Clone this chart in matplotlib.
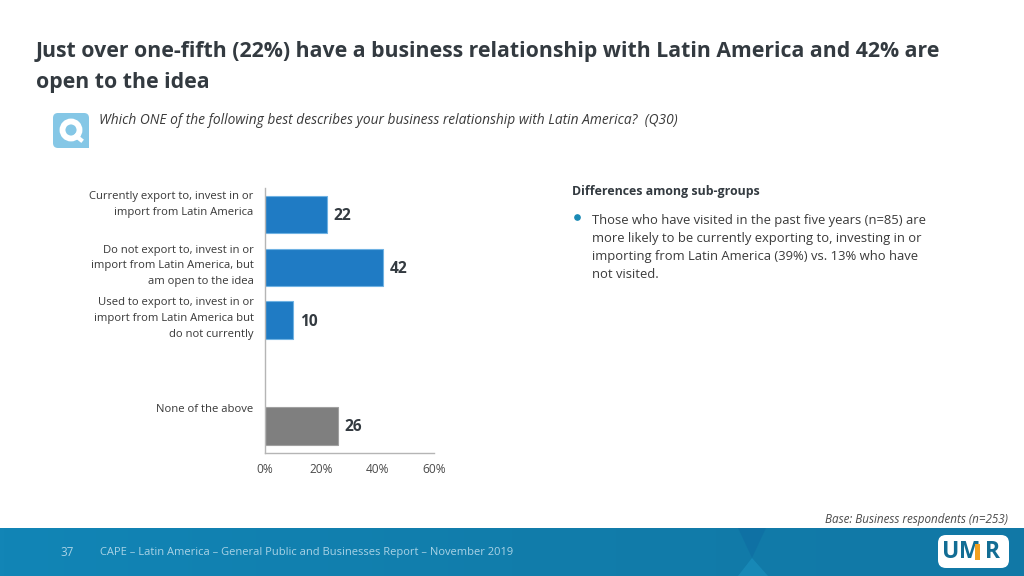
import matplotlib
matplotlib.use("Agg")
import matplotlib.pyplot as plt
from matplotlib.patches import FancyBboxPatch, Rectangle, Circle, Polygon
from matplotlib.colors import LinearSegmentedColormap
import numpy as np

title_lines = ["Just over one-fifth (22%) have a business relationship with Latin America and 42% are",
               "open to the idea"]
question = "Which ONE of the following best describes your business relationship with Latin America?  (Q30)"
categories = ["Currently export to, invest in or\nimport from Latin America",
              "Do not export to, invest in or\nimport from Latin America, but\nam open to the idea",
              "Used to export to, invest in or\nimport from Latin America but\ndo not currently",
              "",
              "None of the above"]
values = [22, 42, 10, None, 26]
bar_colors = ["#1f7bc4", "#1f7bc4", "#1f7bc4", "#ffffff", "#7f7f7f"]
edge_colors = ["#6fb2e3", "#6fb2e3", "#6fb2e3", "none", "#a0a0a0"]
xticks = [0, 20, 40, 60]
xticklabels = ["0%", "20%", "40%", "60%"]
side_heading = "Differences among sub-groups"
side_lines = ["Those who have visited in the past five years (n=85) are",
              "more likely to be currently exporting to, investing in or",
              "importing from Latin America (39%) vs. 13% who have",
              "not visited."]
base_note = "Base: Business respondents (n=253)"
page_number = "37"
footer_text = "CAPE \u2013 Latin America \u2013 General Public and Businesses Report \u2013 November 2019"

W, H = 1024, 576
fig = plt.figure(figsize=(W/100, H/100), dpi=100, facecolor="white")
plt.rcParams['font.family'] = ['Open Sans', 'DejaVu Sans']

bg = fig.add_axes([0, 0, 1, 1])
bg.set_xlim(0, W); bg.set_ylim(H, 0); bg.axis("off")

cmap = LinearSegmentedColormap.from_list("f", ["#1285b6", "#117dab", "#1178a6"])
bg.imshow(np.linspace(0, 1, 256).reshape(1, -1), extent=(0, W, 576, 528), cmap=cmap, aspect="auto", zorder=1)
bg.set_xlim(0, W); bg.set_ylim(H, 0)
bg.add_patch(Polygon([[738, 528], [766, 528], [752, 558]], closed=True, fc="#0f6fa3", ec="none", alpha=0.75, zorder=2))
bg.add_patch(Polygon([[752, 558], [768, 576], [738, 576]], closed=True, fc="#1a8fbd", ec="none", alpha=0.7, zorder=2))

bg.text(36, 51.5, title_lines[0], fontsize=15.35, fontweight="bold", color="#333a40", va="center", ha="left")
bg.text(36, 82.5, title_lines[1], fontsize=15.35, fontweight="bold", color="#333a40", va="center", ha="left")

bg.add_patch(FancyBboxPatch((53, 113), 36, 35, boxstyle="round,pad=0,rounding_size=5", fc="#85c7e6", ec="none", zorder=2))
bg.add_patch(Rectangle((79, 138), 10, 10, fc="#85c7e6", ec="none", zorder=2))
bg.add_patch(Circle((71, 130), 8.5, fc="none", ec="white", lw=4.2, zorder=3))
bg.plot([76, 81], [136, 140], color="white", lw=3, zorder=3)
bg.text(99, 121, question, fontsize=9.9, style="italic", color="#3a3a3a", va="center", ha="left")

ax = fig.add_axes([265.2/W, 1-452.5/H, (434-265.2)/W, (452.5-188)/H])
y = np.arange(len(categories))
vals = [0 if v is None else v for v in values]
ax.barh(y, vals, height=0.71, color=bar_colors, edgecolor=edge_colors, linewidth=0.8)
ax.set_ylim(len(categories)-0.5, -0.5)
ax.set_xlim(0, 60)
ax.set_xticks(xticks); ax.set_xticklabels(xticklabels, fontsize=8.6, color="#4a4a4a")
ax.set_yticks(y); ax.set_yticklabels([""]*len(y))
ax.tick_params(length=0, pad=7.5)
for s in ("top", "right"):
    ax.spines[s].set_visible(False)
for s in ("left", "bottom"):
    ax.spines[s].set_color("#b5b5b5"); ax.spines[s].set_linewidth(1)
for i, v in enumerate(values):
    if v is not None:
        ax.annotate(str(v), (v, i), xytext=(4.5, -1.0), textcoords="offset points", fontsize=11.2,
                    fontweight="bold", color="#333a40", va="center", ha="left")
cat_tops = [197, 250, 303, None, 409]
for lab, t in zip(categories, cat_tops):
    if t is None:
        continue
    for j, part in enumerate(lab.split("\n")):
        bg.text(253.5, t + j*15.8, part, fontsize=8.1, color="#383838", va="center", ha="right")

bg.text(572.5, 191.5, side_heading, fontsize=8.95, fontweight="bold", color="#333a40", va="center", ha="left")
bg.plot([577], [216.5], marker="o", ms=3.8, color="#1a8ab5", zorder=3)
for i, line in enumerate(side_lines):
    bg.text(591.5, 220.5 + i*18, line, fontsize=9.35, color="#3a3a3a", va="center", ha="left")

bg.text(1007.5, 520, base_note, fontsize=8.4, style="italic", color="#4a4a4a", va="center", ha="right")
bg.text(60, 552, page_number, fontsize=8.4, color="#a9d3e6", va="center", ha="left", zorder=4)
bg.text(100.5, 552, footer_text, fontsize=8.05, color="#a9d3e6", va="center", ha="left", zorder=4)

# logo
bg.add_patch(FancyBboxPatch((938, 535), 71, 33, boxstyle="round,pad=0,rounding_size=8", fc="white", ec="none", zorder=3))
bg.text(942, 551.5, "U", fontsize=16.5, fontweight="bold", color="#126d94", va="center", ha="left", zorder=4)
bg.text(959, 551.5, "M", fontsize=16.5, fontweight="bold", color="#126d94", va="center", ha="left", zorder=4)
bg.add_patch(Rectangle((975, 544), 5, 16, fc="#f2a01e", ec="none", zorder=5))
bg.text(985, 551.5, "R", fontsize=16.5, fontweight="bold", color="#126d94", va="center", ha="left", zorder=4)

fig.savefig("out.png", dpi=100, facecolor="white")
